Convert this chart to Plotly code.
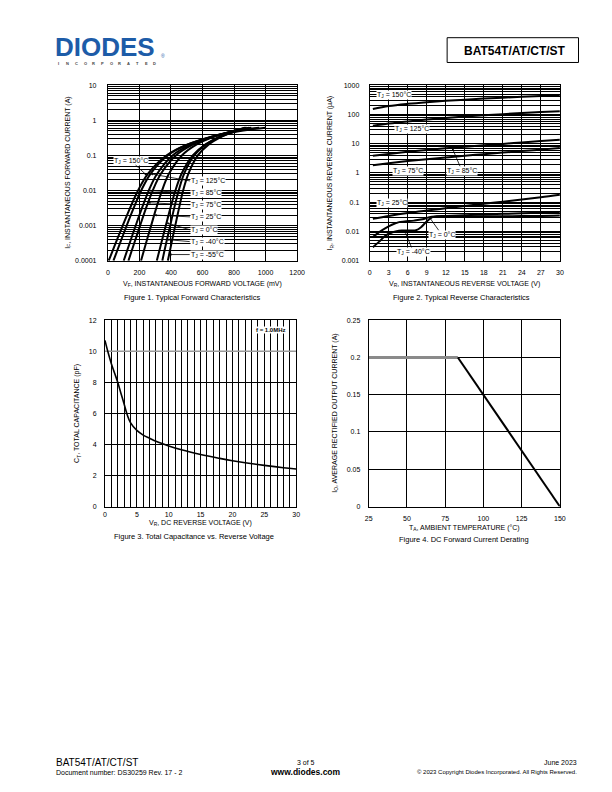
import numpy as np
import plotly.graph_objects as go

W, H = 612, 792

# ---------------- Figure 1 : typical forward characteristics ----------------
if_a = [0.0001, 0.0003, 0.001, 0.003, 0.01, 0.03, 0.1, 0.2, 0.35, 0.5, 0.62]
vf_150c = [5, 47, 94, 138, 191, 253, 371, 498, 672, 839, 1000]
vf_125c = [35, 75, 119, 161, 211, 270, 379, 499, 662, 817, 960]
vf_85c = [100, 136, 176, 214, 259, 312, 410, 518, 664, 802, 905]
vf_75c = [130, 165, 204, 240, 284, 336, 431, 535, 676, 810, 910]
vf_25c = [210, 240, 274, 305, 343, 387, 469, 558, 678, 793, 880]
vf_0c = [310, 337, 367, 395, 428, 467, 538, 615, 718, 817, 895]
vf_m40c = [345, 368, 395, 419, 449, 483, 547, 617, 712, 801, 870]
vf_m55c = [380, 402, 427, 450, 477, 510, 570, 636, 725, 810, 875]
fig1_curves = [vf_150c, vf_125c, vf_85c, vf_75c, vf_25c, vf_0c, vf_m40c, vf_m55c]
fig1_temps = ["150", "125", "85", "75", "25", "0", "-40", "-55"]
fig1_label_i = [0.027, 0.03, 0.01, 0.0045, 0.002, 0.0012, 0.0004, 0.00015]
fig1_ticks = [0.0001, 0.001, 0.01, 0.1, 1, 10]
fig1_ticktext = ["0.0001", "0.001", "0.01", "0.1", "1", "10"]

# ---------------- Figure 2 : typical reverse characteristics ----------------
vr_v = [0.5, 3, 6, 9, 12, 15, 18, 21, 24, 27, 30]
ir_150c = [155, 195, 232, 265, 295, 322, 350, 377, 403, 428, 452]
ir_125c = [41, 49, 58, 67, 76, 85, 94, 103, 112, 121, 130]
ir_85c = [3.9, 4.5, 5.3, 6.1, 7.0, 7.9, 8.9, 9.9, 11.1, 12.4, 13.8]
ir_75c = [1.85, 2.15, 2.55, 2.95, 3.4, 3.9, 4.4, 5.0, 5.6, 6.3, 7.1]
ir_25c = [0.027, 0.034, 0.043, 0.052, 0.062, 0.074, 0.088, 0.104, 0.123, 0.147, 0.18]
vr_0c = [0.5, 1.5, 2.5, 3.5, 4.5, 5.5, 7, 8.3, 9.4, 10.5, 12, 15, 18, 21, 24, 27, 30]
ir_0c = [0.0064, 0.0095, 0.013, 0.017, 0.0205, 0.022, 0.0235, 0.026, 0.031, 0.033,
         0.034, 0.036, 0.038, 0.040, 0.042, 0.044, 0.046]
vr_m40c = [0.5, 1.5, 2.5, 3.5, 4.6, 5.5, 6.5, 7.3, 8.1, 8.9, 9.9, 12, 15, 18, 21, 24, 27, 30]
ir_m40c = [0.0029, 0.0045, 0.0072, 0.0092, 0.0107, 0.0108, 0.0108, 0.011, 0.014, 0.021,
           0.031, 0.032, 0.032, 0.033, 0.033, 0.034, 0.034, 0.035]
fig2_ticks = [0.001, 0.01, 0.1, 1, 10, 100, 1000]
fig2_ticktext = ["0.001", "0.01", "0.1", "1", "10", "100", "1000"]

# ---------------- Figure 3 : total capacitance ----------------
vr3_v = [0, 0.5, 1, 1.5, 2, 2.5, 3, 3.5, 4, 5, 6, 7, 8, 10, 12, 15, 18, 20, 22, 25, 28, 30]
ct_pf = [10.7, 9.9, 9.2, 8.6, 8.0, 7.3, 6.6, 5.9, 5.4, 4.9, 4.6, 4.4, 4.2, 3.9, 3.65,
         3.35, 3.1, 2.95, 2.82, 2.65, 2.5, 2.42]

# ---------------- Figure 4 : derating ----------------
ta_c = [25, 83.3, 150]
io_a = [0.2, 0.2, 0.0]

FONT = "Liberation Sans, Arial, sans-serif"

# plot boxes in page pixels: left, right, top, bottom
B1 = (106, 299, 82, 259)
B2 = (373, 567, 82, 259)
B3 = (103, 298, 319, 507)
B4 = (372, 567, 319, 507)


def dom(b):
    l, r, t, bt = b
    return [l / W, r / W], [1 - bt / H, 1 - t / H]


def P(x, y):
    return x / W, 1 - y / H


def f1_px(v, i):
    l, r, t, b = B1
    return l + v / 1200 * (r - l), b - (np.log10(i) + 4) / 5 * (b - t)


def f2_px(v, i):
    l, r, t, b = B2
    return l + v / 30 * (r - l), b - (np.log10(i) + 3) / 6 * (b - t)


def rel(b, fx, fy):
    """position inside a plot box given as fractions of its width / height"""
    l, r, t, bt = b
    return l + fx * (r - l), t + fy * (bt - t)


fig = go.Figure()

for vf in fig1_curves:
    fig.add_trace(go.Scatter(x=vf, y=if_a, mode="lines", line=dict(color="black", width=2, shape="spline"),
                             xaxis="x", yaxis="y", hoverinfo="skip"))

for vv, ii in [(vr_v, ir_150c), (vr_v, ir_125c), (vr_v, ir_85c), (vr_v, ir_75c), (vr_v, ir_25c),
               (vr_0c, ir_0c), (vr_m40c, ir_m40c)]:
    fig.add_trace(go.Scatter(x=vv, y=ii, mode="lines", line=dict(color="black", width=2, shape="spline"),
                             xaxis="x2", yaxis="y2", hoverinfo="skip"))

fig.add_trace(go.Scatter(x=vr3_v, y=ct_pf, mode="lines", line=dict(color="black", width=1.6, shape="spline"),
                         xaxis="x3", yaxis="y3", hoverinfo="skip"))

fig.add_trace(go.Scatter(x=ta_c[:2], y=io_a[:2], mode="lines", line=dict(color="#8a8a8a", width=3),
                         xaxis="x4", yaxis="y4", hoverinfo="skip"))
fig.add_trace(go.Scatter(x=ta_c[1:], y=io_a[1:], mode="lines", line=dict(color="black", width=2),
                         xaxis="x4", yaxis="y4", hoverinfo="skip"))


def ax_style(standoff=3):
    return dict(showline=True, mirror=True, linecolor="black", linewidth=1, showgrid=True,
                gridcolor="black", gridwidth=1, zeroline=False, ticks="",
                tickfont=dict(size=7, family=FONT), ticklabelstandoff=standoff, fixedrange=True)


def logminor(lo, hi):
    return [m * 10.0 ** e for e in range(lo, hi) for m in range(2, 10)]


d1x, d1y = dom(B1)
d2x, d2y = dom(B2)
d3x, d3y = dom(B3)
d4x, d4y = dom(B4)

fig.update_layout(
    width=W, height=H, margin=dict(l=0, r=0, t=0, b=0),
    paper_bgcolor="white", plot_bgcolor="white", showlegend=False,
    font=dict(family=FONT, size=7, color="black"),
    xaxis=dict(domain=d1x, anchor="y", range=[0, 1200], dtick=200, tick0=0, **ax_style(5)),
    yaxis=dict(domain=d1y, anchor="x", type="log", range=[-4, 1], tickmode="array", tickvals=fig1_ticks,
               ticktext=fig1_ticktext,
               minor=dict(tickmode="array", tickvals=logminor(-4, 1), showgrid=True, gridcolor="black",
                          gridwidth=1, ticks=""), **ax_style(9)),
    xaxis2=dict(domain=d2x, anchor="y2", range=[0, 30], dtick=3, tick0=0, **ax_style(5)),
    yaxis2=dict(domain=d2y, anchor="x2", type="log", range=[-3, 3], tickmode="array", tickvals=fig2_ticks,
                ticktext=fig2_ticktext,
                minor=dict(tickmode="array", tickvals=logminor(-3, 3), showgrid=True, gridcolor="black",
                           gridwidth=1, ticks=""), **ax_style(8)),
    xaxis3=dict(domain=d3x, anchor="y3", range=[0, 30], dtick=5, tick0=0,
                minor=dict(dtick=1, showgrid=True, gridcolor="black", gridwidth=1, ticks=""), **ax_style(1)),
    yaxis3=dict(domain=d3y, anchor="x3", range=[0, 12], dtick=2, tick0=0, **ax_style(6)),
    xaxis4=dict(domain=d4x, anchor="y4", range=[25, 150], dtick=25, tick0=25, **ax_style(5)),
    yaxis4=dict(domain=d4y, anchor="x4", range=[0, 0.25], dtick=0.05, tick0=0, **ax_style(6)),
)

# gray 10 pF grid line in figure 3
fig.add_shape(type="line", xref="x3", yref="y3", x0=0, x1=30, y0=10, y1=10,
              line=dict(color="#9a9a9a", width=1.5), layer="between")

ann = []


def text(x, y, s, size=7, xanchor="center", yanchor="middle", angle=0, color="black", bg=None, bold=False):
    px, py = P(x, y)
    if bold:
        s = "<b>" + s + "</b>"
    d = dict(x=px, y=py, xref="paper", yref="paper", text=s, showarrow=False, xanchor=xanchor,
             yanchor=yanchor, textangle=angle, font=dict(size=size, color=color, family=FONT))
    if bg:
        d.update(bgcolor=bg, borderpad=0)
    ann.append(d)


def arrow_label(s, head, tail, xanchor="center", size=7):
    hx, hy = P(*head)
    ann.append(dict(x=hx, y=hy, xref="paper", yref="paper", text=s, showarrow=True,
                    ax=tail[0] - head[0], ay=tail[1] - head[1], axref="pixel", ayref="pixel",
                    xanchor=xanchor, yanchor="middle", bgcolor="white", borderpad=0,
                    font=dict(size=size, family=FONT), arrowhead=2, arrowsize=0.6, arrowwidth=0.8,
                    arrowcolor="black"))


def tj(t):
    return "T<sub>J</sub> = " + t + "°C"


# figure 1 labels (positions as fractions of the plot box)
log_if = np.log10(if_a)
fig1_label_fy = [0.43, 0.545, 0.613, 0.681, 0.75, 0.823, 0.891, 0.965]
for k, (t, vf, li) in enumerate(zip(fig1_temps, fig1_curves, fig1_label_i)):
    v = float(np.interp(np.log10(li), log_if, vf))
    head = f1_px(v, li)
    if k == 0:
        arrow_label(tj(t), head, rel(B1, 0.122, fig1_label_fy[k]))
    else:
        arrow_label(tj(t), head, rel(B1, 0.43, fig1_label_fy[k]), xanchor="left")

# figure 2 labels
for s, fx, fy in [("150", 0.128, 0.057), ("125", 0.223, 0.251), ("75", 0.202, 0.486), ("25", 0.117, 0.669)]:
    text(*rel(B2, fx, fy), tj(s), bg="white")
v85 = 13.0
arrow_label(tj("85"), f2_px(v85, 10 ** np.interp(v85, vr_v, np.log10(ir_85c))), rel(B2, 0.484, 0.486))
v0 = 9.4
arrow_label(tj("0"), f2_px(v0, 10 ** np.interp(v0, vr_0c, np.log10(ir_0c))), rel(B2, 0.378, 0.851))
vm40 = 5.5
arrow_label(tj("-40"), f2_px(vm40, 10 ** np.interp(vm40, vr_m40c, np.log10(ir_m40c))), rel(B2, 0.229, 0.949))

# figure 3 label
text(*rel(B3, 0.866, 0.055), "f = 1.0MHz", size=6, bg="white", bold=True)

# axis titles and captions
text(65, 170.5, "I<sub>F</sub>, INSTANTANEOUS FORWARD CURRENT (A)", angle=-90)
text(202, 283, "V<sub>F</sub>, INSTANTANEOUS FORWARD VOLTAGE (mV)")
text(192, 296, "Figure 1. Typical Forward Characteristics", size=7.5)

text(333, 170.5, "I<sub>R</sub>, INSTANTANEOUS REVERSE CURRENT (µA)", angle=-90)
text(470, 283, "V<sub>R</sub>, INSTANTANEOUS REVERSE VOLTAGE (V)")
text(467, 296, "Figure 2. Typical Reverse Characteristics", size=7.5)

text(75, 413, "C<sub>T</sub>, TOTAL CAPACITANCE (pF)", angle=-90)
text(200.5, 523.5, "V<sub>R</sub>, DC REVERSE VOLTAGE (V)")
text(194, 537, "Figure 3. Total Capacitance vs. Reverse Voltage", size=7.5)

text(338, 413, "I<sub>O</sub>, AVERAGE RECTIFIED OUTPUT CURRENT (A)", angle=-90)
text(469.5, 528.5, "T<sub>A</sub>, AMBIENT TEMPERATURE (°C)")
text(469.5, 540, "Figure 4. DC Forward Current Derating", size=7.5)

# header
text(50, 43, "DIODES", size=26, xanchor="left", color="#1d5ca8", bold=True)
for k, ch in enumerate("INCORPORATED"):
    text(56 + k * 8.9, 60, ch, size=4, color="#444444", bold=True)
text(158, 52, "®", size=5, xanchor="left", color="#1d5ca8")
fig.add_shape(type="rect", xref="paper", yref="paper", x0=452 / W, x1=586 / W, y0=1 - 59 / H, y1=1 - 34 / H,
              line=dict(color="black", width=1))
text(521, 47, "BAT54T/AT/CT/ST", size=12, bold=True)

# footer
text(51, 765, "BAT54T/AT/CT/ST", size=10, xanchor="left")
text(51, 775.5, "Document number: DS30259 Rev. 17 - 2", size=7, xanchor="left")
text(308, 765, "3 of 5", size=7)
text(308, 774.5, "www.diodes.com", size=8.5, bold=True)
text(586, 765, "June 2023", size=7, xanchor="right")
text(586, 774.5, "© 2023 Copyright Diodes Incorporated. All Rights Reserved.", size=6, xanchor="right")

fig.update_layout(annotations=ann)
fig.write_html("out.html")
